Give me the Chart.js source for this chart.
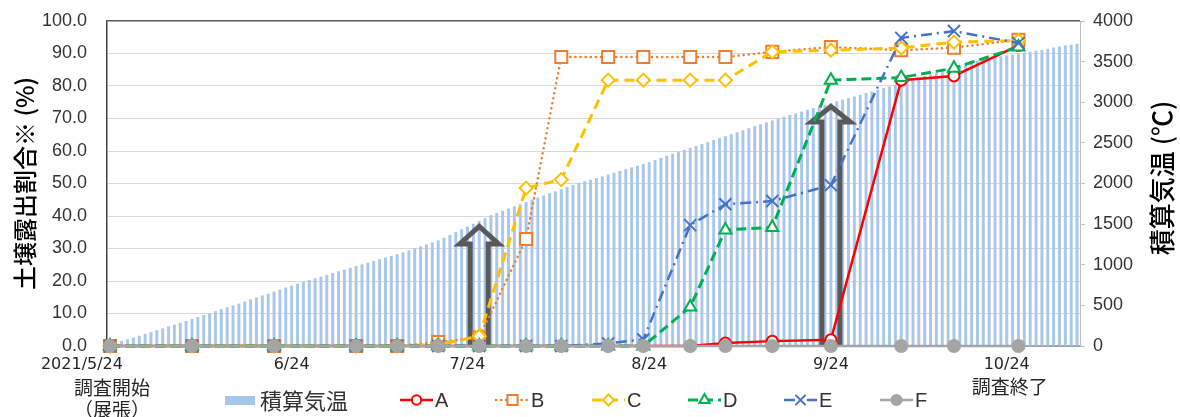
<!DOCTYPE html>
<html><head><meta charset="utf-8">
<script src="https://cdn.jsdelivr.net/npm/chart.js@4.4.1/dist/chart.umd.min.js"></script>
<style>html,body{margin:0;padding:0;background:#fff;}canvas{display:block;}</style>
</head><body>
<canvas id="c" width="1180" height="417"></canvas>
<script>
// ---- categories: daily dates from 2021/5/24 to 2021/11/5 ----
const days = [];
for (let i = 0; i < 166; i++) {
  const d = new Date(Date.UTC(2021, 4, 24 + i));
  days.push((d.getUTCMonth() + 1) + '/' + d.getUTCDate());
}

// ---- cumulative temperature (積算気温, ℃) one value per day ----
const cumTemp = [
  17, 38, 62, 83, 103, 126, 150, 171, 193, 218, 242, 264, 285, 308, 333, 357,
  380, 403, 428, 453, 476, 498, 522, 547, 573, 598, 622, 645, 669, 694, 720, 744, 768,
  790, 811, 833, 853, 875, 897, 918, 940, 962, 983, 1004, 1026, 1047, 1068, 1089, 1110, 1131,
  1153, 1178, 1204, 1227, 1250, 1275, 1300, 1333, 1366, 1402, 1437, 1470, 1504, 1540, 1575, 1610,
  1638, 1664, 1692, 1719, 1745, 1773, 1801, 1827, 1853, 1880, 1904, 1930, 1957, 1983, 2008,
  2027, 2046, 2066, 2087, 2110, 2133, 2155, 2176, 2198, 2219, 2240, 2262, 2288, 2315, 2341, 2366,
  2390, 2415, 2440, 2463, 2486, 2510, 2535, 2559, 2582, 2607, 2631, 2655, 2680, 2705, 2729, 2753,
  2776, 2800, 2822, 2842, 2863, 2885, 2907, 2928, 2949, 2970, 2990, 3011, 3032, 3053, 3072, 3092,
  3113, 3134, 3155, 3175, 3195, 3215, 3237, 3259, 3281, 3302, 3324, 3345, 3367, 3388, 3409, 3431,
  3452, 3473, 3494, 3515, 3530, 3543, 3555, 3566, 3577, 3588, 3599, 3611, 3623, 3635, 3647, 3660,
  3673, 3685, 3697, 3709, 3721
];

// ---- survey dates and soil exposure ratio (%) per plot ----
const surveyDates = ['5/24','6/7','6/21','7/5','7/12','7/19','7/26','8/3','8/9','8/17','8/23','8/31','9/6','9/14','9/24','10/6','10/15','10/26'];
const seriesA = [0, 0, 0, 0, 0, 0, 0, 0, 0, 0, 0, 0, 0.9, 1.5, 1.9, 81.8, 83.1, 92.5];
const seriesB = [0, 0, 0, 0, 0, 1.2, 2.6, 32.9, 88.9, 88.9, 88.9, 88.9, 88.9, 90.5, 92.0, 91.0, 91.8, 94.2];
const seriesC = [0, 0, 0, 0, 0, 0.5, 3.0, 48.6, 51.2, 81.8, 81.8, 81.8, 81.8, 90.5, 91.0, 91.7, 93.5, 94.0];
const seriesD = [0, 0, 0, 0, 0, 0, 0, 0, 0, 0, 0, 12.0, 35.7, 36.5, 81.8, 82.6, 85.5, 92.0];
const seriesE = [0, 0, 0, 0, 0, 0, 0, 0, 0, 0.8, 2.0, 37.2, 43.6, 44.6, 49.5, 94.8, 96.9, 93.2];
const seriesF = [0, 0, 0, 0, 0, 0, 0, 0, 0, 0, 0, 0, 0, 0, 0, 0, 0, 0];

// ---- tick labels ----
const tickDates = ['6/24', '7/24', '8/24', '9/24', '10/24'];
const firstTickText = '2021/5/24';
const startNote = ['調査開始', '（展張）'];
const endNote = '調査終了';
const endNoteDate = '10/24';

// ---- arrow annotations (date, head base and tip on the left axis) ----
const arrows = [
  { date: '7/26', headBase: 31.4, tip: 36.8 },
  { date: '9/24', headBase: 68.9, tip: 73.7 }
];

const JP = '"Noto Sans CJK JP", sans-serif';
const NUM = '"Liberation Sans", Arial, sans-serif';
const XF = '"DejaVu Sans", sans-serif';
const barColor = '#a9c7ea';

function lineDs(label, values, color, dash, cap, pointStyle, radius, fillColor, order, width) {
  return {
    type: 'line', label,
    data: surveyDates.map((d, i) => ({ x: d, y: values[i] })),
    yAxisID: 'y', borderColor: color, borderWidth: width, borderDash: dash, borderCapStyle: cap,
    pointStyle, pointRadius: radius, pointBorderColor: color, pointBackgroundColor: fillColor,
    pointBorderWidth: 2, tension: 0, fill: false, order, clip: false
  };
}

const datasets = [
  { type: 'bar', label: '積算気温', data: cumTemp, yAxisID: 'y2', backgroundColor: barColor,
    barPercentage: 0.5, categoryPercentage: 1.0, order: 10 },
  lineDs('A', seriesA, '#ff0000', [], 'butt', 'circle', 5.5, '#ffffff', 6, 2.5),
  lineDs('B', seriesB, '#ed7d31', [0.1, 5], 'round', 'rect', 8.5, '#ffffff', 5, 2.5),
  lineDs('C', seriesC, '#ffc000', [10, 6], 'butt', 'rectRot', 6.5, '#ffffff', 4, 3),
  lineDs('D', seriesD, '#00b050', [10, 5], 'butt', 'triangle', 7, '#ffffff', 3, 3),
  lineDs('E', seriesE, '#4472c4', [11, 5, 2, 5], 'butt', 'crossRot', 8.5, '#4472c4', 2, 2.5),
  lineDs('F', seriesF, '#a5a5a5', [], 'butt', 'circle', 6, '#a5a5a5', 1, 2.5)
];

function drawArrows(chart) {
  const { ctx, scales: { x, y } } = chart;
  arrows.forEach(a => {
    const cx = x.getPixelForValue(days.indexOf(a.date));
    const yb = y.getPixelForValue(0) - 2.5;
    const yh = y.getPixelForValue(a.headBase);
    const yt = y.getPixelForValue(a.tip);
    const sw = 9, hw = 19.5;
    ctx.save();
    ctx.beginPath();
    ctx.moveTo(cx - sw, yb);
    ctx.lineTo(cx - sw, yh);
    ctx.lineTo(cx - hw, yh);
    ctx.lineTo(cx, yt);
    ctx.lineTo(cx + hw, yh);
    ctx.lineTo(cx + sw, yh);
    ctx.lineTo(cx + sw, yb);
    ctx.closePath();
    ctx.lineWidth = 5;
    ctx.lineJoin = 'miter';
    ctx.strokeStyle = '#595959';
    ctx.stroke();
    ctx.restore();
  });
}

function drawTexts(chart) {
  const { ctx, scales: { x } } = chart;
  ctx.save();
  ctx.textAlign = 'center';
  ctx.textBaseline = 'middle';
  const x0 = x.getPixelForValue(0);
  ctx.fillStyle = '#262626';
  ctx.font = '16px ' + XF;
  ctx.fillText(firstTickText, x0 - 28, 365);
  ctx.font = '19px ' + JP;
  ctx.fillText(startNote[0], x0 + 2, 388);
  ctx.fillText(startNote[1], x0 + 2, 410);
  const xe = x.getPixelForValue(days.indexOf(endNoteDate));
  ctx.fillText(endNote, xe + 3, 387);
  ctx.save();
  ctx.translate(1162, 178);
  ctx.rotate(-Math.PI / 2);
  ctx.fillStyle = '#000000';
  ctx.font = '500 26px ' + JP;
  ctx.fillText('積算気温 (℃)', 0, 0);
  ctx.restore();
  ctx.restore();
}

function drawLegend(chart) {
  const { ctx } = chart;
  const yc = 400;
  ctx.save();
  ctx.textBaseline = 'middle';
  ctx.textAlign = 'left';
  ctx.fillStyle = barColor;
  ctx.fillRect(225, 396, 30, 9);
  ctx.fillStyle = '#333333';
  ctx.font = '22px ' + JP;
  ctx.fillText(chart.data.datasets[0].label, 260, yc + 1);
  chart.data.datasets.slice(1).forEach((ds, i) => {
    const lx = 400 + i * 96;
    ctx.save();
    ctx.strokeStyle = ds.borderColor;
    ctx.lineWidth = ds.borderWidth;
    ctx.setLineDash(ds.borderDash);
    ctx.lineCap = ds.borderCapStyle;
    ctx.beginPath();
    ctx.moveTo(lx, yc);
    ctx.lineTo(lx + 33, yc);
    ctx.stroke();
    ctx.setLineDash([]);
    ctx.fillStyle = ds.pointBackgroundColor;
    ctx.strokeStyle = ds.pointBorderColor;
    ctx.lineWidth = ds.pointBorderWidth;
    Chart.helpers.drawPoint(ctx, { pointStyle: ds.pointStyle, radius: ds.pointRadius * 0.85, rotation: 0, borderWidth: ds.pointBorderWidth }, lx + 16.5, yc);
    ctx.restore();
    ctx.fillStyle = '#333333';
    ctx.font = '20px ' + NUM;
    ctx.fillText(ds.label, lx + 35, yc + 1);
  });
  ctx.restore();
}

const annotPlugin = {
  id: 'annot',
  afterDatasetDraw(chart, args) {
    if (args.meta.type === 'bar') drawArrows(chart);
  },
  afterDraw(chart) {
    drawTexts(chart);
    drawLegend(chart);
  }
};

function noEdgePad(s) { s.paddingTop = 0; s.paddingBottom = 0; s.paddingLeft = 0; s.paddingRight = 0; }

new Chart(document.getElementById('c'), {
  type: 'bar',
  data: { labels: days, datasets },
  options: {
    responsive: false, animation: false, devicePixelRatio: 1,
    layout: { padding: { top: 21, left: 0, right: 0, bottom: 0 } },
    plugins: { legend: { display: false }, tooltip: { enabled: false } },
    scales: {
      x: {
        type: 'category', offset: true,
        grid: { display: false, drawTicks: false },
        border: { color: '#a6a6a6', width: 2 },
        ticks: {
          autoSkip: false, maxRotation: 0, minRotation: 0, padding: 9,
          color: '#262626', font: { family: XF, size: 16 },
          callback(v, i) { const l = days[i]; return tickDates.includes(l) ? l : null; }
        },
        afterFit(s) { s.height = 71; noEdgePad(s); }
      },
      y: {
        position: 'left', min: 0, max: 100,
        grid: {
          drawTicks: false,
          color: c => (c.tick && c.tick.value === 100) ? '#595959' : '#d9d9d9',
          lineWidth: c => (c.tick && c.tick.value === 100) ? 1.5 : 1
        },
        border: { color: '#404040', width: 1.5 },
        ticks: { stepSize: 10, padding: 20, color: '#333333', font: { family: NUM, size: 18 },
          callback: v => Number(v).toFixed(1) },
        title: { display: true, text: '土壌露出割合※ (%)', color: '#000000',
          font: { family: JP, size: 24, weight: '500' }, padding: { top: 10, bottom: 0 } },
        afterFit(s) { s.width = 107; noEdgePad(s); }
      },
      y2: {
        position: 'right', min: 0, max: 4000,
        grid: { drawOnChartArea: false, drawTicks: true, tickLength: 5, color: '#bfbfbf' },
        border: { color: '#bfbfbf', width: 1 },
        ticks: { stepSize: 500, padding: 8, color: '#333333', font: { family: NUM, size: 18 },
          callback: v => String(v) },
        afterFit(s) { s.width = 100; noEdgePad(s); }
      }
    }
  },
  plugins: [annotPlugin]
});
</script>
</body></html>
